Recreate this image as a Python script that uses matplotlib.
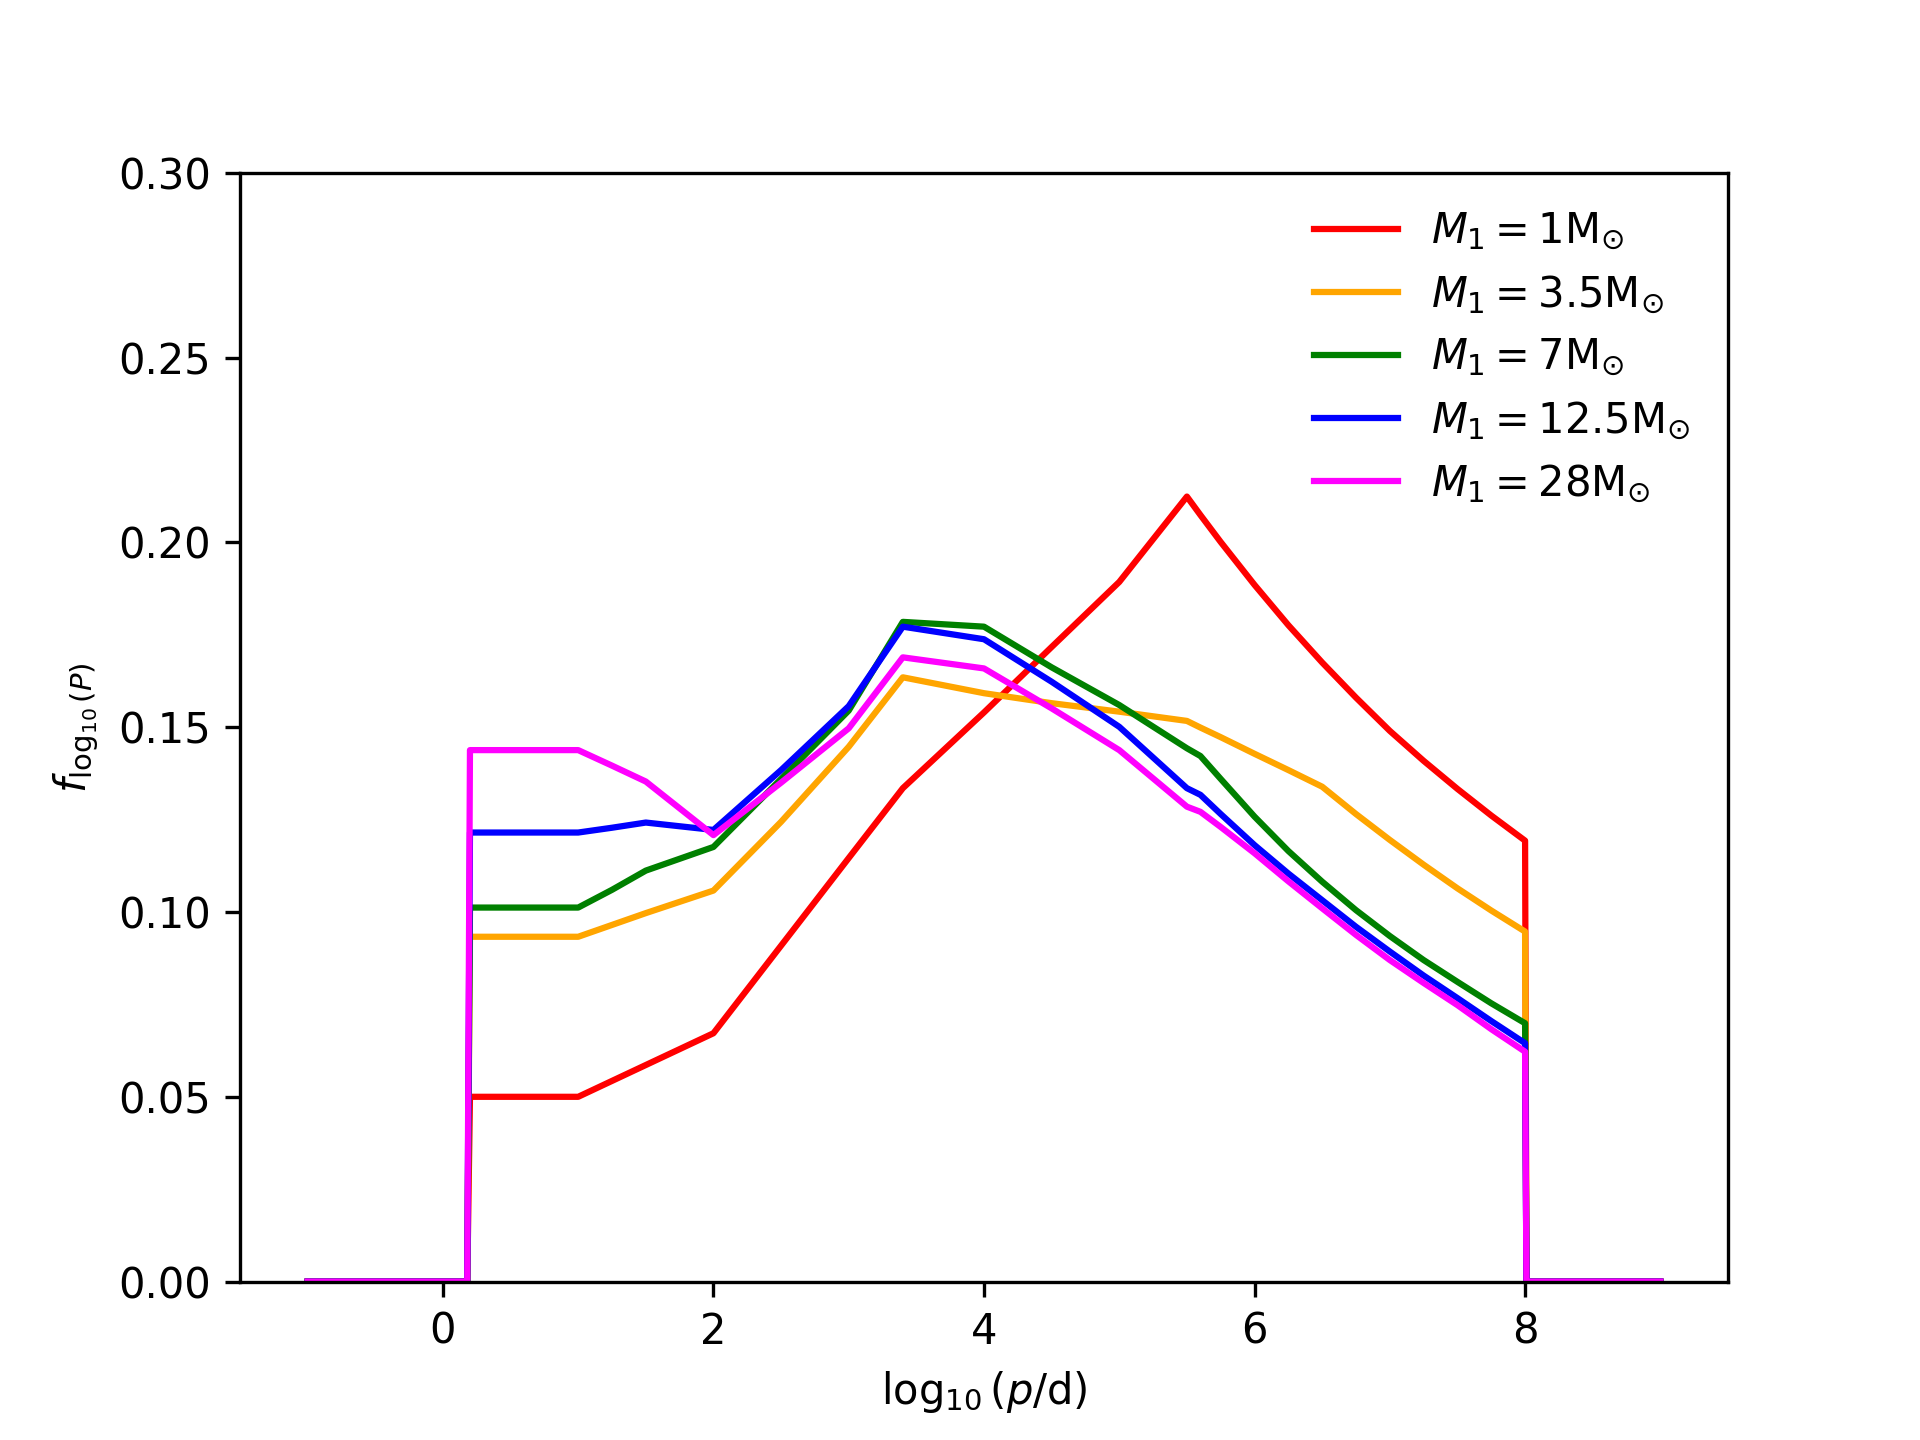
"""Orbital-period distribution f(log10 P) for several primary masses."""

import matplotlib

matplotlib.use("Agg")
import matplotlib.pyplot as plt

# log10(P/d) sample points shared by every curve
log_p = [-1.0, 0.18, 0.2, 1.0, 1.25, 1.5, 2.0, 2.5, 3.0, 3.4, 4.0, 4.5, 5.0,
         5.5, 5.6, 5.75, 6.0, 6.25, 6.5, 6.75, 7.0, 7.25, 7.5, 7.75, 8.0,
         8.01, 9.0]

f_m1 = [0, 0, 0.0500, 0.0500, 0.0543, 0.0586, 0.0672, 0.0909, 0.1146, 0.1335,
        0.1540, 0.1717, 0.1893, 0.2124, 0.2074, 0.2001, 0.1885, 0.1776, 0.1675,
        0.1580, 0.1490, 0.1409, 0.1333, 0.1261, 0.1193, 0, 0]
f_m3_5 = [0, 0, 0.0933, 0.0933, 0.0965, 0.0997, 0.1058, 0.1244, 0.1447, 0.1635,
          0.1592, 0.1565, 0.1542, 0.1517, 0.1499, 0.1473, 0.1428, 0.1384, 0.1339,
          0.1265, 0.1195, 0.1128, 0.1064, 0.1004, 0.0947, 0, 0]
f_m7 = [0, 0, 0.1012, 0.1012, 0.1060, 0.1112, 0.1176, 0.1360, 0.1545, 0.1785,
        0.1772, 0.1662, 0.1560, 0.1443, 0.1422, 0.1360, 0.1258, 0.1165, 0.1082,
        0.1005, 0.0935, 0.0870, 0.0811, 0.0753, 0.0699, 0, 0]
f_m12_5 = [0, 0, 0.1215, 0.1215, 0.1228, 0.1242, 0.1222, 0.1384, 0.1557, 0.1772,
           0.1738, 0.1623, 0.1501, 0.1335, 0.1317, 0.1265, 0.1181, 0.1104, 0.1032,
           0.0960, 0.0893, 0.0828, 0.0767, 0.0705, 0.0645, 0, 0]
f_m28 = [0, 0, 0.1438, 0.1438, 0.1396, 0.1353, 0.1208, 0.1350, 0.1497, 0.1689,
         0.1659, 0.1551, 0.1438, 0.1285, 0.1271, 0.1230, 0.1159, 0.1083, 0.1010,
         0.0938, 0.0870, 0.0808, 0.0748, 0.0683, 0.0622, 0, 0]

masses = ["1", "3.5", "7", "12.5", "28"]
series = [f_m1, f_m3_5, f_m7, f_m12_5, f_m28]
colors = ["red", "orange", "green", "blue", "magenta"]

fig, ax = plt.subplots(figsize=(6.4, 4.8))
for m, f, c in zip(masses, series, colors):
    ax.plot(log_p, f, color=c, label=r"$M_1=" + m + r"\mathrm{M_{\odot}}$")

ax.set_ylim(0, 0.30)
ax.set_xlabel(r"$\log_{10}(p/\mathrm{d})$")
ax.set_ylabel(r"$f_{\log_{10}(P)}$")
ax.legend(loc="upper right", frameon=False)
fig.savefig("out.png", dpi=300)
